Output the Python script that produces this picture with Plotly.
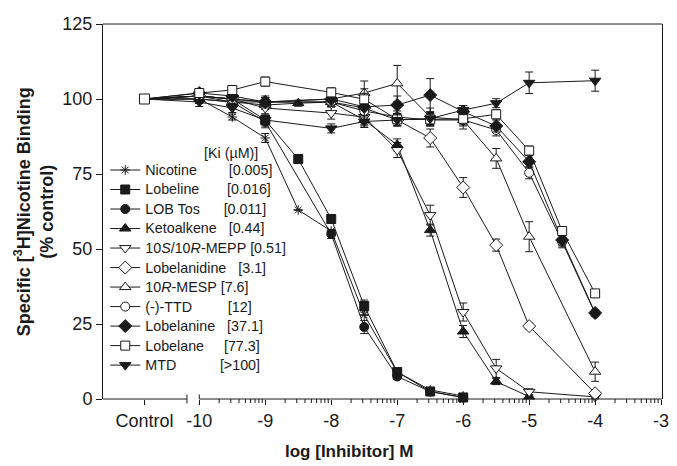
import math
import plotly.graph_objects as go

# ---------------- data ----------------
control_label = "Control"
control_value = 100
x_ticks = [-10, -9, -8, -7, -6, -5, -4, -3]
x_ticklabels = ["-10", "-9", "-8", "-7", "-6", "-5", "-4", "-3"]
y_ticks = [0, 25, 50, 75, 100, 125]

names = ["Nicotine", "Lobeline", "LOB Tos", "Ketoalkene", "10<i>S</i>/10<i>R</i>-MEPP",
         "Lobelanidine", "10<i>R</i>-MESP", "(-)-TTD", "Lobelanine", "Lobelane", "MTD"]
ki_values = ["[0.005]", "[0.016]", "[0.011]", "[0.44]", "[0.51]", "[3.1]", "[7.6]",
             "[12]", "[37.1]", "[77.3]", "[>100]"]

nic_x = [-10, -9.5, -9, -8.5, -8, -7.5, -7, -6.5, -6]
nic_y = [100, 94, 87, 63, 56, 28, 9, 3, 1]
nic_e = [1, 1, 1.5, 0, 0, 0, 0, 0, 0]

lob_x = [-10, -9.5, -9, -8.5, -8, -7.5, -7, -6.5, -6]
lob_y = [101, 100, 93, 80, 60, 31, 9, 2.5, 0.5]
lob_e = [2, 1.5, 2, 1.5, 1.5, 2, 1, 0.5, 0.5]

tos_x = [-10, -9.5, -9, -8, -7.5, -7, -6.5, -6]
tos_y = [101, 99, 92.4, 55, 24, 7.5, 2.5, 0.5]
tos_e = [2, 1.5, 2, 1.5, 2.2, 1, 0.5, 0.5]

ket_x = [-10, -9.5, -9, -8.5, -8, -7.5, -7, -6.5, -6, -5.5, -5]
ket_y = [100, 99, 98, 98.6, 99, 93, 84.7, 56.3, 22.5, 5.8, 0.8]
ket_e = [1.5, 1.5, 1.5, 1, 1.5, 2, 2, 2, 2, 1, 0.5]

mepp_x = [-10, -9.5, -9, -8, -7.5, -7, -6.5, -6, -5.5, -5, -4]
mepp_y = [101, 100, 97, 95.3, 94, 83, 61.3, 29, 10.2, 2.4, 0.7]
mepp_e = [1.5, 1.5, 2, 2, 2, 2.5, 3.3, 3, 3, 1, 0.5]

lbd_x = [-10, -9.5, -9, -8, -7.5, -7, -6.5, -6, -5.5, -5, -4]
lbd_y = [101, 100, 99, 99, 97, 93, 87, 70.5, 51.3, 24.3, 1.9]
lbd_e = [1.5, 1.5, 1.5, 1.5, 2, 2, 3, 3.3, 2, 1, 0.5]

mesp_x = [-10, -9.5, -9, -8, -7.5, -7, -6.5, -6, -5.5, -5, -4]
mesp_y = [100, 99, 99, 100, 102, 105.2, 94, 93, 80.2, 54.1, 9.1]
mesp_e = [1.5, 1.5, 1.5, 2, 4, 6, 3, 3, 3.3, 5, 3.2]

ttd_x = [-10, -9.5, -9, -8, -7.5, -7, -6.5, -6, -5.5, -5, -4.5, -4]
ttd_y = [101, 100, 99, 99, 96, 94, 93, 93, 89.7, 75.4, 52.4, 28.5]
ttd_e = [1.5, 1.5, 1.5, 1.5, 2, 2, 2, 2, 2, 2, 2, 1]

lbn_x = [-10, -9.5, -9, -8, -7.5, -7, -6.5, -6, -5.5, -5, -4.5, -4]
lbn_y = [102, 101, 99, 100, 97.4, 98, 101.3, 95.8, 91, 79.1, 53, 28.7]
lbn_e = [1.5, 1.5, 2, 2, 6, 3, 5.5, 2, 2, 2, 2, 1]

lbl_x = [-10, -9.5, -9, -8, -7.5, -7, -6.5, -6, -5.5, -5, -4.5, -4]
lbl_y = [102, 103, 105.8, 102.2, 99.9, 93.2, 93.2, 93.4, 94.9, 82.8, 56, 35.2]
lbl_e = [1.5, 1.5, 1.5, 1.5, 2, 2, 2, 2, 1.5, 1.5, 1.5, 1]

mtd_x = [-10, -9.5, -9, -8, -7.5, -7, -6.5, -6, -5.5, -5, -4]
mtd_y = [99, 97, 93, 90.2, 92.5, 93, 93.5, 96.3, 98.6, 105.4, 106.1]
mtd_e = [1.5, 1.5, 1.5, 1.5, 2, 2, 2, 1.5, 1.5, 3.6, 3.5]

series_x = [nic_x, lob_x, tos_x, ket_x, mepp_x, lbd_x, mesp_x, ttd_x, lbn_x, lbl_x, mtd_x]
series_y = [nic_y, lob_y, tos_y, ket_y, mepp_y, lbd_y, mesp_y, ttd_y, lbn_y, lbl_y, mtd_y]
series_e = [nic_e, lob_e, tos_e, ket_e, mepp_e, lbd_e, mesp_e, ttd_e, lbn_e, lbl_e, mtd_e]

# ---------------- style ----------------
# (symbol, filled?)
symbols = [("asterisk-open", True), ("square", True), ("circle", True),
           ("triangle-up", True), ("triangle-down", False), ("diamond", False),
           ("triangle-up", False), ("circle", False), ("diamond", True),
           ("square", False), ("triangle-down", True)]
pad_counts = [8, 7, 6, 3, 1, 3, 1, 9, 3, 5, 11]

INK = "#1a1a1a"
FONT = "Liberation Sans, Arial, sans-serif"
LEG_TEXT = 14.3

# geometry (pixels)
W, H = 677, 466
L, R, T, B = 103, 669, 24, 399
PX_DEC = 66.8
X10 = 200.5


def px_to_x(px):
    return -10 + (px - X10) / PX_DEC


ctrl_x = px_to_x(145)
ctrl_end = px_to_x(188)
x_lo, x_hi = px_to_x(L), px_to_x(R)


def to_paper(x):
    return (x - x_lo) / (x_hi - x_lo)


fig = go.Figure()

# connectors from control to first point of each series
for xs, ys in zip(series_x, series_y):
    fig.add_trace(go.Scatter(x=[ctrl_x, xs[0]], y=[control_value, ys[0]], mode="lines",
                             line=dict(color=INK, width=1), showlegend=False,
                             hoverinfo="skip", cliponaxis=False))

for i, (xs, ys, es) in enumerate(zip(series_x, series_y, series_e)):
    sym, filled = symbols[i]
    if sym.startswith("asterisk"):
        size, color = 8, INK
    elif "triangle" in sym or "diamond" in sym:
        size, color = 10, (INK if filled else "white")
    else:
        size, color = 9, (INK if filled else "white")
    label = (f'<span style="font-size:{LEG_TEXT}px">' + names[i]
             + "\u00a0" * pad_counts[i] + ki_values[i] + "</span>")
    fig.add_trace(go.Scatter(
        x=xs, y=ys, mode="lines+markers", name=label,
        line=dict(color=INK, width=1),
        marker=dict(symbol=sym, size=size, color=color,
                    line=dict(color=INK, width=1)),
        error_y=dict(type="data", array=es, visible=True, color=INK, thickness=1, width=4),
        cliponaxis=False,
    ))

# control point
fig.add_trace(go.Scatter(x=[ctrl_x], y=[control_value], mode="markers", showlegend=False,
                         marker=dict(symbol="square", size=10, color="white",
                                     line=dict(color=INK, width=1)),
                         cliponaxis=False))

fig.update_layout(
    width=W, height=H,
    margin=dict(l=L, r=W - R, t=T, b=H - B),
    paper_bgcolor="white", plot_bgcolor="white",
    font=dict(family=FONT, color=INK, size=18),
    showlegend=True,
    legend=dict(x=0.004, y=0.65, xanchor="left", yanchor="top",
                bgcolor="rgba(0,0,0,0)", font=dict(size=12.7, family=FONT, color=INK),
                tracegroupgap=0, itemclick=False),
    xaxis=dict(range=[x_lo, x_hi], showgrid=False, zeroline=False, showline=False,
               tickmode="array", tickvals=[ctrl_x] + x_ticks,
               ticktext=[control_label] + x_ticklabels,
               ticks="outside", ticklen=5, tickcolor=INK, tickwidth=1,
               tickfont=dict(size=18, family=FONT, color=INK)),
    yaxis=dict(range=[0, 125], showgrid=False, zeroline=False, showline=True,
               linecolor=INK, linewidth=1, mirror=True,
               tickmode="array", tickvals=y_ticks, ticks="outside", ticklen=6,
               tickcolor=INK, tickfont=dict(size=18, family=FONT, color=INK)),
)

# broken x-axis line, top frame, minor log ticks (paper coords so they are not clipped)
tick_frac = 4 / (B - T)
end_tick = 4.5 / (B - T)
shapes = [
    dict(type="line", xref="paper", yref="paper", x0=0, x1=to_paper(ctrl_end), y0=0, y1=0,
         line=dict(color=INK, width=1)),
    dict(type="line", xref="paper", yref="paper", x0=to_paper(ctrl_end), x1=to_paper(ctrl_end),
         y0=end_tick, y1=-end_tick, line=dict(color=INK, width=1)),
    dict(type="line", xref="paper", yref="paper", x0=to_paper(-10), x1=1, y0=0, y1=0,
         line=dict(color=INK, width=1)),
    dict(type="line", xref="paper", yref="paper", x0=to_paper(-10), x1=to_paper(-10),
         y0=end_tick, y1=0, line=dict(color=INK, width=1)),
    dict(type="line", xref="paper", yref="paper", x0=0, x1=1, y0=1, y1=1,
         line=dict(color=INK, width=1)),
]
for d in range(x_ticks[0], x_ticks[-1]):
    for k in range(2, 10):
        xm = to_paper(d + math.log10(k))
        shapes.append(dict(type="line", xref="paper", yref="paper", x0=xm, x1=xm,
                           y0=0, y1=-tick_frac, line=dict(color=INK, width=1)))
fig.update_layout(shapes=shapes)

fig.add_annotation(text="<b>Specific [<sup>3</sup>H]Nicotine Binding<br>(% control)</b>",
                   xref="paper", yref="paper", x=(33 - L) / (R - L), y=0.5,
                   xanchor="center", yanchor="middle", textangle=-90, showarrow=False,
                   font=dict(size=18, family=FONT, color=INK))
fig.add_annotation(text="[Ki (\u00b5M)]", xref="paper", yref="paper",
                   x=(203 - L) / (R - L), y=(B - 153) / (B - T), xanchor="left",
                   yanchor="middle", showarrow=False,
                   font=dict(size=LEG_TEXT, family=FONT, color=INK))
fig.add_annotation(text="<b>log [Inhibitor] M</b>", xref="paper", yref="paper",
                   x=(352 - L) / (R - L), y=(B - 451) / (B - T), xanchor="center",
                   yanchor="middle", showarrow=False,
                   font=dict(size=17, family=FONT, color=INK))

fig.write_html("out.html")
